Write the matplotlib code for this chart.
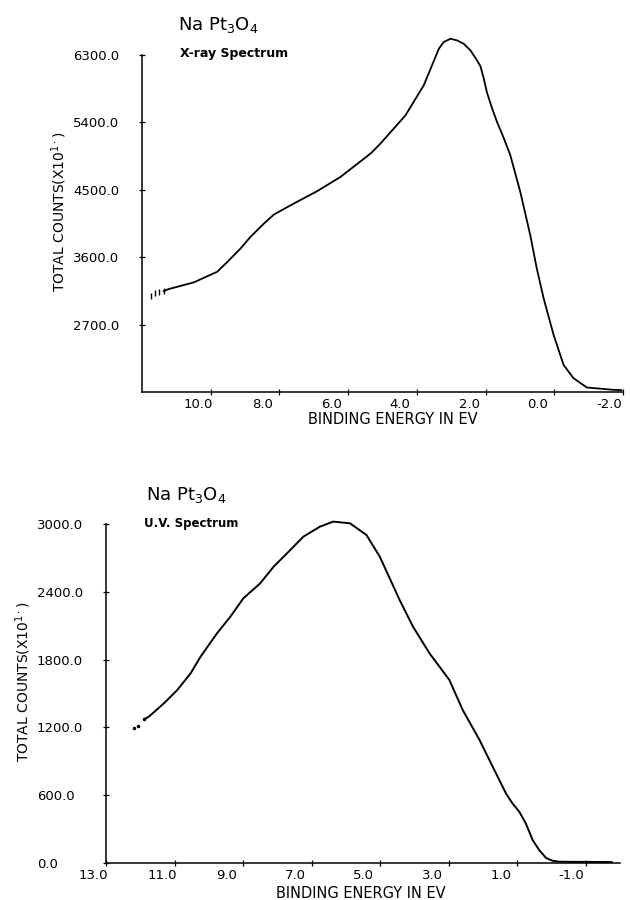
import matplotlib
matplotlib.use("Agg")
import matplotlib.pyplot as plt
import matplotlib.transforms as mtrans

# ---------------- data ----------------
xray_energy = [11.74, 11.63, 11.50, 11.37, 11.21, 10.49, 9.81, 9.51, 9.13, 8.84,
               8.45, 8.16, 7.58, 6.90, 6.22, 5.35, 5.06, 4.33, 3.80, 3.36,
               3.22, 3.02, 2.83, 2.64, 2.44, 2.25, 2.15, 2.06, 1.96, 1.82,
               1.67, 1.47, 1.28, 0.99, 0.70, 0.51, 0.31, 0.02, -0.27, -0.56,
               -0.95, -1.72, -1.95]
xray_counts = [3087, 3118, 3140, 3149, 3176, 3264, 3406, 3540, 3717, 3873,
               4050, 4170, 4317, 4482, 4673, 4983, 5117, 5495, 5895, 6383,
               6473, 6517, 6495, 6451, 6362, 6229, 6150, 6000, 5800, 5600,
               5410, 5190, 4962, 4473, 3896, 3451, 3051, 2562, 2162, 1984,
               1860, 1829, 1825]

uv_energy = [12.18, 12.07, 11.89, 11.75, 11.31, 10.92, 10.53, 10.24, 9.76, 9.37,
             8.99, 8.50, 8.11, 7.72, 7.24, 6.76, 6.37, 5.88, 5.40, 5.01,
             4.43, 4.04, 3.56, 2.98, 2.59, 2.10, 1.62, 1.33, 1.14, 0.94,
             0.75, 0.55, 0.36, 0.16, -0.03, -0.22, -0.60, -1.00, -1.76]
uv_counts = [1197, 1215, 1272, 1295, 1413, 1531, 1679, 1826, 2033, 2180,
             2343, 2475, 2622, 2740, 2888, 2976, 3021, 3006, 2903, 2711,
             2327, 2091, 1856, 1620, 1354, 1089, 794, 617, 528, 454,
             351, 204, 115, 45, 20, 12, 10, 10, 8]

xray_xticks = [10.0, 8.0, 6.0, 4.0, 2.0, 0.0, -2.0]
xray_yticks = [2700.0, 3600.0, 4500.0, 5400.0, 6300.0]
uv_xticks = [13.0, 11.0, 9.0, 7.0, 5.0, 3.0, 1.0, -1.0]
uv_yticks = [0.0, 600.0, 1200.0, 1800.0, 2400.0, 3000.0]

compound = r"Na Pt$_3$O$_4$"
xray_title = "X-ray Spectrum"
uv_title = "U.V. Spectrum"
ylabel = r"TOTAL COUNTS(X10$^{1\cdot}$)"
xlabel = "BINDING ENERGY IN EV"

W, H = 630, 900
fig = plt.figure(figsize=(W / 100, H / 100), dpi=100)
fig.patch.set_facecolor("white")


def px_axes(l, t, r, b):
    return fig.add_axes([l / W, 1 - b / H, (r - l) / W, (b - t) / H])


def style(ax, xticks, yticks, xlim, ylim):
    for s in ("top", "right"):
        ax.spines[s].set_visible(False)
    for s in ("left", "bottom"):
        ax.spines[s].set_linewidth(1.1)
    ax.set_xlim(*xlim)
    ax.set_ylim(*ylim)
    ax.set_xticks(xticks)
    ax.set_xticklabels([f"{v:.1f}" for v in xticks])
    ax.set_yticks(yticks)
    ax.set_yticklabels([f"{v:.1f}" for v in yticks])
    ax.tick_params(axis="both", direction="inout", length=4, width=0.9,
                   labelsize=9.5, colors="black")
    ax.tick_params(axis="x", pad=2)
    ax.tick_params(axis="y", pad=47.7)
    offx = mtrans.ScaledTranslation(-27 / 100, 0, fig.dpi_scale_trans)
    for lab in ax.get_xticklabels():
        lab.set_horizontalalignment("left")
        lab.set_transform(lab.get_transform() + offx)
    for lab in ax.get_yticklabels():
        lab.set_horizontalalignment("left")


# ---------------- top: X-ray ----------------
ax1 = px_axes(142, 55, 623, 392)
n = 4
ax1.plot(xray_energy[:n], xray_counts[:n], linestyle="none", marker="|",
         markersize=4, color="black", clip_on=False)
ax1.plot(xray_energy[n - 1:], xray_counts[n - 1:], color="black", lw=1.3,
         clip_on=False)
style(ax1, xray_xticks, xray_yticks, (12.0, -2.0), (1800, 6300))

# ---------------- bottom: UV ----------------
ax2 = px_axes(106, 524, 620, 863)
m = 3
ax2.plot(uv_energy[:m], uv_counts[:m], linestyle="none", marker=".",
         markersize=3, color="black", clip_on=False)
ax2.plot(uv_energy[m - 1:], uv_counts[m - 1:], color="black", lw=1.4,
         clip_on=False)
style(ax2, uv_xticks, uv_yticks, (13.0, -2.0), (0, 3000))

# ---------------- texts ----------------
def ftext(x, y, s, **kw):
    fig.text(x / W, 1 - y / H, s, **kw)

ftext(178, 25, compound, fontsize=13, ha="left", va="center")
ftext(180, 53, xray_title, fontsize=9, fontweight="bold", ha="left", va="center")
ftext(146, 495, compound, fontsize=13, ha="left", va="center")
ftext(144, 523, uv_title, fontsize=8.5, fontweight="bold", ha="left", va="center")

ftext(59, 212, ylabel, fontsize=10, rotation=90, ha="center", va="center")
ftext(23, 682, ylabel, fontsize=10, rotation=90, ha="center", va="center")
ftext(393, 420, xlabel, fontsize=10.5, ha="center", va="center")
ftext(361, 893, xlabel, fontsize=10.5, ha="center", va="center")

fig.savefig("out.png", dpi=100, facecolor="white")
